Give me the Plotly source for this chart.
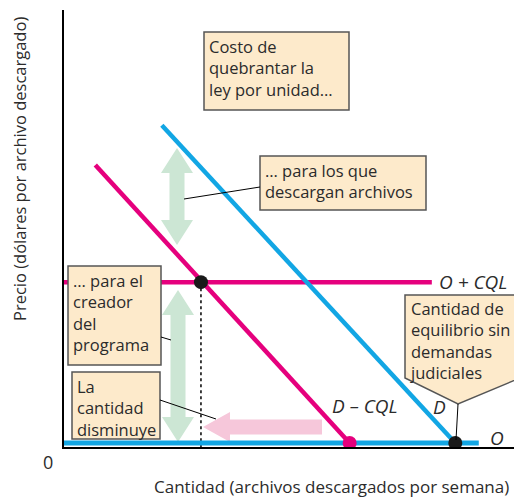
import plotly.graph_objects as go

# ---------------- data (price / quantity units) ----------------
q_eq = 100          # equilibrium quantity without lawsuits
q_new = 35          # quantity with legal cost
p_new = 41.5        # price received by the creator (O + CQL)

supply_q = [0, 106]
supply_p = [1, 1]
supply_cql_q = [0, 94]
supply_cql_p = [41.5, 41.5]
demand_q = [25, 100]
demand_p = [81, 1]
demand_cql_q = [8, 73]
demand_cql_p = [71, 1]

BLUE = "#12a6e4"
MAGENTA = "#e5007d"
BOX_FILL = "#fdeacb"
BOX_LINE = "#555555"
GREEN = "#cce6d4"
PINK = "#f6c7da"
FONT = "Open Sans"

# ---------------- pixel -> data helper for decorations ----------------
L, T, W, H = 64, 10, 450, 437
XMAX, YMAX = 115, 110


def X(p):
    return (p - L) / W * XMAX


def Y(p):
    return (T + H - p) / H * YMAX


def path(points):
    return "M " + " L ".join(f"{X(a):.3f},{Y(b):.3f}" for a, b in points) + " Z"


def v_double_arrow(cx, top, bottom, head=25, hw=16, sw=7.5):
    return [(cx, top), (cx + hw, top + head), (cx + sw, top + head),
            (cx + sw, bottom - head), (cx + hw, bottom - head), (cx, bottom),
            (cx - hw, bottom - head), (cx - sw, bottom - head),
            (cx - sw, top + head), (cx - hw, top + head)]


def h_left_arrow(tip, tail, cy, head=27, hw=15, sw=7.5):
    return [(tip, cy), (tip + head, cy - hw), (tip + head, cy - sw),
            (tail, cy - sw), (tail, cy + sw), (tip + head, cy + sw),
            (tip + head, cy + hw)]


fig = go.Figure()

# ---------------- curves ----------------
fig.add_trace(go.Scatter(x=[q_new, q_new], y=[p_new, 0], mode="lines",
                         line=dict(color="black", width=1.5, dash="dot")))
fig.add_trace(go.Scatter(x=supply_q, y=supply_p, mode="lines",
                         line=dict(color=BLUE, width=5)))
fig.add_trace(go.Scatter(x=supply_cql_q, y=supply_cql_p, mode="lines",
                         line=dict(color=MAGENTA, width=4.5)))
fig.add_trace(go.Scatter(x=demand_q, y=demand_p, mode="lines",
                         line=dict(color=BLUE, width=4.5)))
fig.add_trace(go.Scatter(x=demand_cql_q, y=demand_cql_p, mode="lines",
                         line=dict(color=MAGENTA, width=4.5)))

# ---------------- points ----------------
fig.add_trace(go.Scatter(x=[q_new, q_eq], y=[p_new, supply_p[0]], mode="markers",
                         marker=dict(color="#1a1a1a", size=14)))
fig.add_trace(go.Scatter(x=[demand_cql_q[1]], y=[demand_cql_p[1]], mode="markers",
                         marker=dict(color=MAGENTA, size=14)))

shapes = []
# arrows
for pts, col in [(v_double_arrow(177, 148, 245), GREEN),
                 (v_double_arrow(178, 290, 442), GREEN),
                 (h_left_arrow(203, 322, 427), PINK)]:
    shapes.append(dict(type="path", path=path(pts), fillcolor=col,
                       line=dict(width=0), layer="below"))

# boxes
for x0, y0, x1, y1 in [(204, 32, 349, 110), (260, 156, 426, 210),
                       (68, 266, 161, 365), (72, 372, 160, 439)]:
    shapes.append(dict(type="rect", x0=X(x0), y0=Y(y0), x1=X(x1), y1=Y(y1),
                       fillcolor=BOX_FILL, line=dict(color=BOX_LINE, width=1.5)))
shapes.append(dict(type="path",
                   path=path([(405, 295), (520, 295), (520, 378), (458, 404), (405, 378)]),
                   fillcolor=BOX_FILL, line=dict(color=BOX_LINE, width=1.5)))

# leader lines
for a, b, c, d in [(184, 199, 260, 187), (161, 337, 171, 340),
                   (160, 400, 216, 419), (458, 404, 456, 440)]:
    shapes.append(dict(type="line", x0=X(a), y0=Y(b), x1=X(c), y1=Y(d),
                       line=dict(color="black", width=1)))

annotations = []


def text(px_x, px_y, s, size=16.5, xanchor="left", yanchor="top", angle=0):
    # paper coordinates so labels outside the axes stay visible
    annotations.append(dict(x=(px_x - L) / W, y=(T + H - px_y) / H,
                            xref="paper", yref="paper", text=s,
                            showarrow=False, xanchor=xanchor, yanchor=yanchor,
                            align="left", textangle=angle,
                            font=dict(family=FONT, size=size, color="#2b2b2b")))


text(207, 33, "Costo de<br>quebrantar la<br>ley por unidad…")
text(263, 157, "… para los que<br>descargan archivos")
text(71, 267, "… para el<br>creador<br>del<br>programa")
text(75, 373, "La<br>cantidad<br>disminuye")
text(408, 295, "Cantidad de<br>equilibrio sin<br>demandas<br>judiciales")

text(437, 282, "<i>O + CQL</i>", size=19, yanchor="middle")
text(330, 406, "<i>D – CQL</i>", size=19, yanchor="middle")
text(431, 407, "<i>D</i>", size=19, yanchor="middle")
text(488, 438, "<i>O</i>", size=19, yanchor="middle")
text(48, 462, "0", size=18, xanchor="center", yanchor="middle")
text(331, 486, "Cantidad (archivos descargados por semana)", size=17,
     xanchor="center", yanchor="middle")
text(19, 169, "Precio (dólares por archivo descargado)", xanchor="center",
     yanchor="middle", angle=-90)

fig.update_layout(
    width=516, height=498,
    margin=dict(l=L, r=516 - L - W, t=T, b=498 - T - H),
    plot_bgcolor="white", paper_bgcolor="white",
    showlegend=False,
    shapes=shapes,
    annotations=annotations,
    xaxis=dict(range=[0, XMAX], showgrid=False, zeroline=False, showticklabels=False,
               ticks="", showline=True, linecolor="black", linewidth=1.5, fixedrange=True),
    yaxis=dict(range=[0, YMAX], showgrid=False, zeroline=False, showticklabels=False,
               ticks="", showline=True, linecolor="black", linewidth=1.5, fixedrange=True),
)

# the page's default body margin would shift the figure
fig.write_html("out.html", config={"displayModeBar": False},
               post_script="document.body.style.margin='0';"
                           "document.body.style.overflow='hidden';")
